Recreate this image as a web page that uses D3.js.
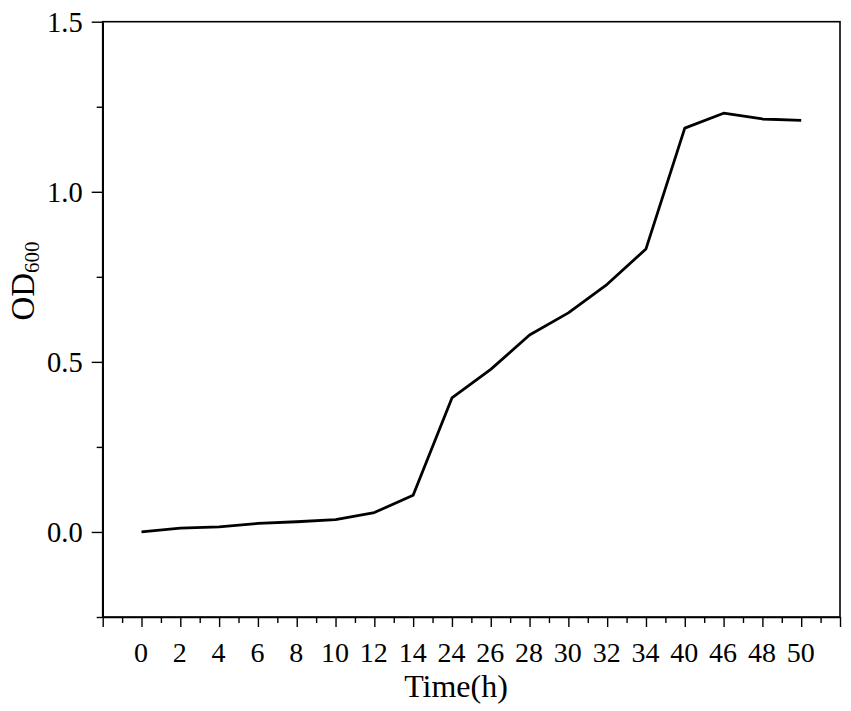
<!DOCTYPE html>
<html>
<head>
<meta charset="utf-8">
<script src="https://cdn.jsdelivr.net/npm/d3@7"></script>
<style>
  html, body { margin: 0; padding: 0; background: #fff; }
  svg { display: block; }
  text { font-family: "Liberation Serif", "Times New Roman", serif; fill: #000; }
</style>
</head>
<body>
<svg id="chart" width="851" height="711"></svg>
<script>
// Data
const timeLabels = ["0","2","4","6","8","10","12","14","24","26","28","30","32","34","40","46","48","50"];
const od600 = [0.000, 0.011, 0.015, 0.025, 0.030, 0.036, 0.057, 0.108, 0.394, 0.478, 0.579, 0.644, 0.728, 0.832, 1.187, 1.231, 1.214, 1.210];
const yTicks = [0.0, 0.5, 1.0, 1.5];
const yMinorTicks = [-0.25, 0.25, 0.75, 1.25];

const svg = d3.select("#chart");
const mLeft = 102.7, mRight = 840, mTop = 21.7, mBottom = 617;

const x = d3.scaleLinear().domain([-1, timeLabels.length]).range([mLeft, mRight]);
const y = d3.scaleLinear().domain([-0.25, 1.5]).range([mBottom, mTop]);

// frame
svg.append("rect")
  .attr("x", mLeft).attr("y", mTop)
  .attr("width", mRight - mLeft).attr("height", mBottom - mTop)
  .attr("fill", "none").attr("stroke", "#000").attr("stroke-width", 1.6);

// X axis major ticks (with labels)
const xMajor = d3.range(-1, timeLabels.length + 1);
const xAxis = d3.axisBottom(x)
  .tickValues(xMajor)
  .tickSize(10)
  .tickSizeOuter(0)
  .tickFormat(d => (d >= 0 && d < timeLabels.length) ? timeLabels[d] : "");
const gx = svg.append("g").attr("transform", `translate(0,${mBottom})`).call(xAxis);
gx.select(".domain").attr("stroke-width", 1.6);
gx.selectAll(".tick line").attr("stroke-width", 1.4);
gx.selectAll(".tick text")
  .attr("font-size", 28)
  .attr("font-family", "Liberation Serif")
  .attr("y", 0).attr("dy", null)
  .attr("transform", "translate(-1,44.5)");

// X minor ticks
const xMinor = d3.range(-0.5, timeLabels.length, 1);
const xAxisMinor = d3.axisBottom(x).tickValues(xMinor).tickSize(6).tickFormat("");
const gxm = svg.append("g").attr("transform", `translate(0,${mBottom})`).call(xAxisMinor);
gxm.select(".domain").remove();
gxm.selectAll(".tick line").attr("stroke-width", 1.4);

// Y axis
const yAxis = d3.axisLeft(y)
  .tickValues(yTicks)
  .tickSize(11)
  .tickSizeOuter(0)
  .tickFormat(d3.format(".1f"));
const gy = svg.append("g").attr("transform", `translate(${mLeft},0)`).call(yAxis);
gy.select(".domain").attr("stroke-width", 1.6);
gy.selectAll(".tick line").attr("stroke-width", 1.4);
gy.selectAll(".tick text")
  .attr("font-size", 28.5)
  .attr("font-family", "Liberation Serif")
  .attr("x", -20)
  .attr("dy", "0.34em");

const yAxisMinor = d3.axisLeft(y).tickValues(yMinorTicks).tickSize(6).tickFormat("");
const gym = svg.append("g").attr("transform", `translate(${mLeft},0)`).call(yAxisMinor);
gym.select(".domain").remove();
gym.selectAll(".tick line").attr("stroke-width", 1.4);

// Line
const line = d3.line()
  .x((d, i) => x(i))
  .y(d => y(d));
svg.append("path")
  .datum(od600)
  .attr("fill", "none")
  .attr("stroke", "#000")
  .attr("stroke-width", 2.8)
  .attr("stroke-linejoin", "round")
  .attr("d", line);

// Axis titles
svg.append("text")
  .attr("x", 456).attr("y", 697)
  .attr("text-anchor", "middle")
  .attr("font-size", 32)
  .text("Time(h)");

const yt = svg.append("text")
  .attr("transform", "translate(34,281) rotate(-90)")
  .attr("text-anchor", "middle")
  .attr("font-size", 33);
yt.append("tspan").text("OD");
yt.append("tspan").attr("font-size", 21).attr("dy", 5).text("600");
</script>
</body>
</html>
